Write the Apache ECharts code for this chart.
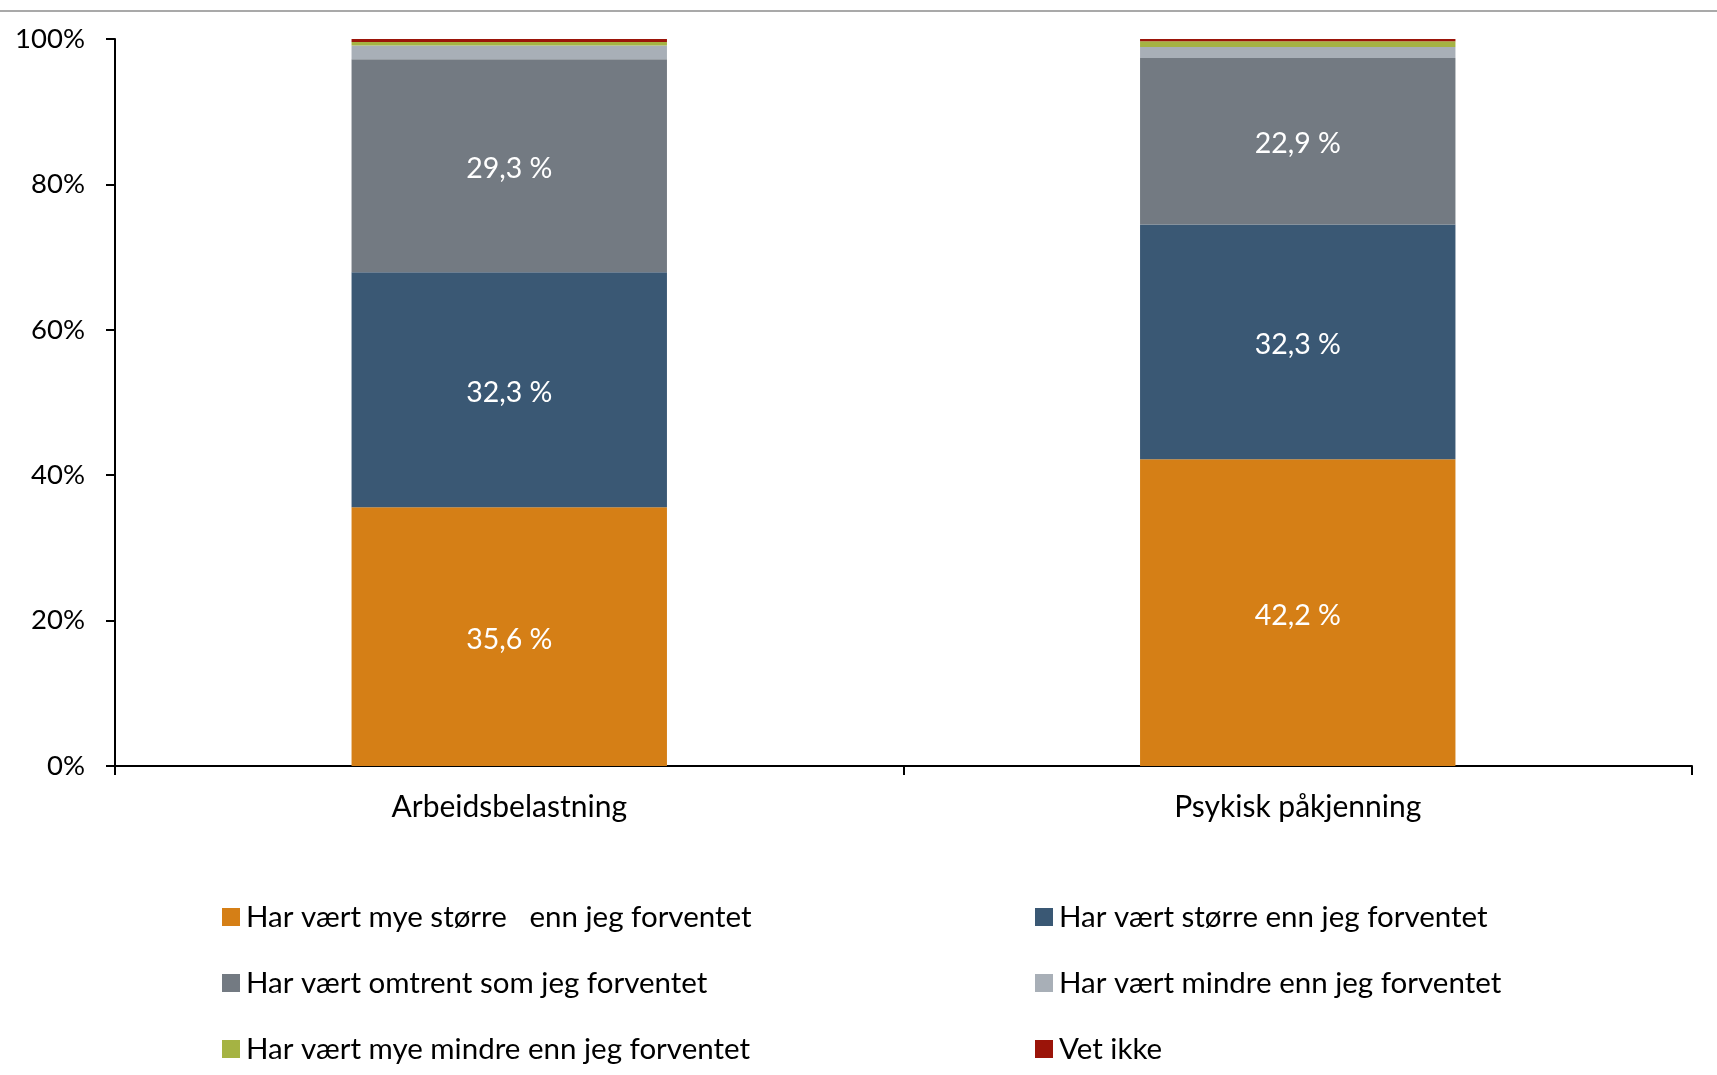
<!DOCTYPE html>
<html>
<head>
<meta charset="utf-8">
<script src="https://cdn.jsdelivr.net/npm/echarts@6/dist/echarts.min.js"></script>
<style>
  html, body { margin: 0; padding: 0; background: #fff; }
  #chart { width: 1717px; height: 1075px; }
</style>
</head>
<body>
<div id="chart"></div>
<script>
// kategorier og verdier (prosent)
var categories = ['Arbeidsbelastning', 'Psykisk påkjenning']
var seriesNames = [
  'Har vært mye større   enn jeg forventet',
  'Har vært større enn jeg forventet',
  'Har vært omtrent som jeg forventet',
  'Har vært mindre enn jeg forventet',
  'Har vært mye mindre enn jeg forventet',
  'Vet ikke'
]
var myeStorre = [35.6, 42.2]
var storre = [32.3, 32.3]
var omtrent = [29.3, 22.9]
var mindre = [1.9, 1.5]
var myeMindre = [0.5, 0.8]
var vetIkke = [0.4, 0.3]
var yTicks = [0, 20, 40, 60, 80, 100]

var colors = ['#D57F16', '#3A5874', '#737A82', '#A8AFB7', '#A5B343', '#9B1409']
var values = [myeStorre, storre, omtrent, mindre, myeMindre, vetIkke]
var font = 'Lato, "Open Sans", sans-serif'

var dom = document.getElementById('chart')
var myChart = echarts.init(dom)

var series = []
for (var i = 0; i < seriesNames.length; i++) {
  series.push({
    name: seriesNames[i],
    type: 'bar',
    stack: 'total',
    barWidth: '40%',
    itemStyle: { color: colors[i] },
    data: values[i],
    label: {
      show: i < 3,
      position: 'inside',
      offset: [0, 3],
      color: '#fff',
      fontSize: 28.5,
      fontFamily: font,
      formatter: function (p) {
        return p.value.toFixed(1).replace('.', ',') + ' %'
      }
    }
  })
}

function legendItems (idx) {
  return idx.map(function (k) { return { name: seriesNames[k], icon: 'rect' } })
}

var legendText = { fontSize: 29.5, fontFamily: font, color: '#000', padding: [0, 0, 0, 1] }

var option = {
  animation: false,
  grid: { left: 115, right: 25, top: 39, bottom: 309 },
  xAxis: {
    type: 'category',
    data: categories,
    axisLine: { lineStyle: { color: '#000', width: 2 } },
    axisTick: { show: true, length: 9, lineStyle: { color: '#000', width: 2 } },
    axisLabel: { color: '#000', fontSize: 30, fontFamily: font, margin: 26 }
  },
  yAxis: {
    type: 'value',
    min: 0,
    max: 100,
    interval: 20,
    splitLine: { show: false },
    axisLine: { show: true, lineStyle: { color: '#000', width: 2 } },
    axisTick: { show: true, length: 9, lineStyle: { color: '#000', width: 2 } },
    axisLabel: {
      color: '#000', fontSize: 27.5, fontFamily: font, margin: 30,
      formatter: function (v) { return yTicks.indexOf(v) >= 0 ? v + '%' : '' }
    }
  },
  legend: [
    {
      orient: 'vertical', left: 217, top: 897,
      itemWidth: 18, itemHeight: 18, itemGap: 36,
      textStyle: legendText,
      data: legendItems([0, 2, 4])
    },
    {
      orient: 'vertical', left: 1030, top: 897,
      itemWidth: 18, itemHeight: 18, itemGap: 36,
      textStyle: legendText,
      data: legendItems([1, 3, 5])
    }
  ],
  graphic: [{
    type: 'line',
    shape: { x1: 0, y1: 11, x2: 1717, y2: 11 },
    style: { stroke: '#8c8c8c', lineWidth: 1.5 }
  }],
  series: series
}
myChart.setOption(option)
</script>
</body>
</html>
